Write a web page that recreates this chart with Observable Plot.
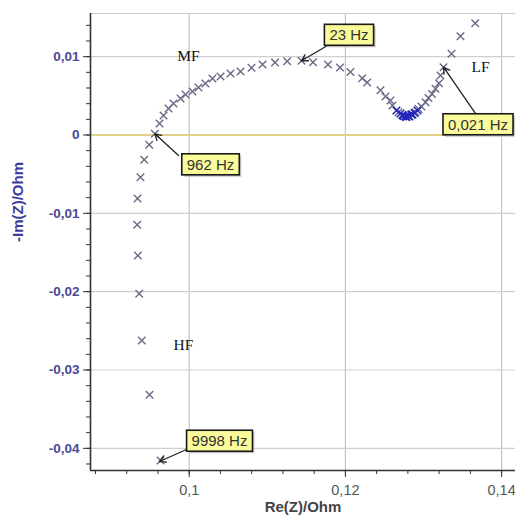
<!DOCTYPE html>
<html><head><meta charset="utf-8">
<script src="https://cdn.jsdelivr.net/npm/d3@7"></script>
<script src="https://cdn.jsdelivr.net/npm/@observablehq/plot@0.6"></script>
<style>body{margin:0;background:#fff;}</style>
</head><body><div id="chart"></div>
<script>
// Nyquist data: Re(Z) and -Im(Z) in Ohm
const reZ = [0.09633,0.09492,0.09393,0.09360,0.09342,0.09334,0.09338,0.09376,0.09424,0.09488,0.09560,
  0.0962,0.09671,0.09735,0.09799,0.09889,0.09953,0.10042,0.10119,0.10208,0.10298,0.10401,0.10529,0.10657,
  0.10798,0.10939,0.11099,0.11255,0.11438,0.11585,0.11777,0.11931,0.12065,0.12215,0.12279,0.12449,0.12513,
  0.12577,0.12603,0.12680,0.12731,0.12770,0.12808,0.12846,0.12898,0.12936,0.12974,0.13026,0.13064,0.13109,
  0.13154,0.13198,0.13218,0.13256,0.13359,0.13474,0.13662];
const negImZ = [-0.04155,-0.03316,-0.02623,-0.02027,-0.01538,-0.01146,-0.00811,-0.00539,-0.00317,-0.00125,0.00015,
  0.00147,0.00249,0.00338,0.00402,0.00466,0.00517,0.00555,0.00606,0.00657,0.00721,0.00747,0.00785,0.00811,
  0.00858,0.00900,0.00925,0.00941,0.00947,0.00929,0.00900,0.00862,0.00804,0.00725,0.00670,0.00572,0.00491,
  0.00440,0.00377,0.00291,0.00255,0.00236,0.00243,0.00262,0.00291,0.00332,0.00364,0.00419,0.00472,0.00523,
  0.00590,0.00661,0.00760,0.00865,0.01037,0.01261,0.01427];
// dense cluster of points near the minimum (drawn darker blue)
const clusterRe = [0.12654,0.12705,0.12731,0.12744,0.12770,0.12782,0.12808,0.12820,0.12846,0.12859,0.12885,0.12923];
const clusterIm = [0.00313,0.00274,0.00255,0.00243,0.00236,0.00230,0.00243,0.00236,0.00262,0.00262,0.00281,0.00313];

// frequency annotations
const annLabel = ["962 Hz","23 Hz","0,021 Hz","9998 Hz"];
const annPointRe = [0.09560,0.11438,0.13256,0.09620];
const annPointIm = [0.00015,0.00947,0.00865,-0.04168];
const annBoxRe = [0.10273,0.12046,0.13698,0.10388];
const annBoxIm = [-0.00383,0.01270,0.00128,-0.03912];
const annTailRe = [0.09863,0.11771,0.13667,0.09965];
const annTailIm = [-0.00262,0.01142,0.00274,-0.04015];

// region labels
const regionLabel = ["MF","LF","HF"];
const regionRe = [0.09991,0.13730,0.09927];
const regionIm = [0.01002,0.00874,-0.02687];

// axes
const xDomain = [0.08736, 0.14178];
const yDomain = [-0.04283, 0.01551];
const xTicks = [0.1, 0.12, 0.14];
const yTicks = [0.01, 0, -0.01, -0.02, -0.03, -0.04];
const xMinor = d3.range(0.088, 0.1415, 0.004);
const yMinor = d3.range(-0.042, 0.0155, 0.002);
const xTitle = "Re(Z)/Ohm";
const yTitle = "-Im(Z)/Ohm";

const fmt = d => String(+d.toFixed(4)).replace(".", ",");
const pts = reZ.map((x, i) => ({x, y: negImZ[i]}));
const cluster = clusterRe.map((x, i) => ({x, y: clusterIm[i]}));
const anns = annLabel.map((label, i) => ({label, px: annPointRe[i], py: annPointIm[i], bx: annBoxRe[i], by: annBoxIm[i], tx: annTailRe[i], ty: annTailIm[i]}));
const regions = regionLabel.map((label, i) => ({label, x: regionRe[i], y: regionIm[i]}));

const chart = Plot.plot({
  width: 515, height: 520,
  marginLeft: 90, marginRight: 0, marginTop: 13, marginBottom: 50,
  style: {fontFamily: "Liberation Sans, Arial, sans-serif", background: "#fff"},
  x: {domain: xDomain, axis: null},
  y: {domain: yDomain, axis: null},
  marks: [
    Plot.gridX(xTicks, {stroke: "#c4c4c4", strokeOpacity: 1, strokeWidth: 1.2}),
    Plot.gridY(yTicks.filter(d => d !== 0), {stroke: "#cfcfcf", strokeOpacity: 1, strokeWidth: 1.2}),
    Plot.ruleY([0], {stroke: "#e3d28e", strokeWidth: 2}),
    Plot.ruleY([yDomain[1]], {stroke: "#cccccc", strokeWidth: 1.2}),
    Plot.axisY({ticks: yMinor, tickSize: 4, tickFormat: () => "", stroke: "#333"}),
    Plot.axisX({ticks: xMinor, tickSize: 4, tickFormat: () => "", stroke: "#333"}),
    Plot.axisY({ticks: yTicks, tickSize: 7, tickPadding: 4, tickFormat: fmt, stroke: "#333", fill: "#4a4a96", fontSize: 13.5, fontWeight: 600}),
    Plot.axisX({ticks: xTicks, tickSize: 7, tickPadding: 7, tickFormat: fmt, stroke: "#333", fill: "#555", fontSize: 14.5}),
    Plot.ruleX([xDomain[0]], {stroke: "#333", strokeWidth: 1.6}),
    Plot.ruleY([yDomain[0]], {stroke: "#333", strokeWidth: 1.6}),
    Plot.text([yTitle], {frameAnchor: "left", rotate: -90, dx: -72, fill: "#3c3c9a", fontWeight: "bold", fontSize: 15, letterSpacing: 1.5}),
    Plot.text([xTitle], {frameAnchor: "bottom", dy: 41, fill: "#444", fontWeight: "bold", fontSize: 15, letterSpacing: 1.5}),
    Plot.dot(pts, {x: "x", y: "y", symbol: "times", r: 3.5, stroke: "#6a6a86", strokeWidth: 1.4}),
    Plot.dot(cluster, {x: "x", y: "y", symbol: "times", r: 3.5, stroke: "#2626b8", strokeWidth: 1.6}),
    Plot.text(regions, {x: "x", y: "y", text: "label", fontFamily: "Liberation Serif, Times New Roman, serif", fontSize: 15.5, fill: "#111"}),
    Plot.arrow(anns, {x1: "tx", y1: "ty", x2: "px", y2: "py", stroke: "#222", strokeWidth: 1.3, headLength: 8, insetEnd: 0, bend: 0}),
    Plot.text(anns, {x: "bx", y: "by", text: "label", fontSize: 15, fill: "#333", ariaDescription: "annotation"})
  ]
});
document.getElementById("chart").appendChild(chart);

// draw yellow label boxes behind annotation texts
const g = chart.querySelector('g[aria-description="annotation"]');
if (g) {
  g.querySelectorAll("text").forEach(t => {
    const b = t.getBBox();
    const tr = t.getAttribute("transform");
    const mk = (dx, dy, fill, stroke) => {
      const r = document.createElementNS("http://www.w3.org/2000/svg", "rect");
      r.setAttribute("x", b.x - 5 + dx); r.setAttribute("y", b.y - 2 + dy);
      r.setAttribute("width", b.width + 10); r.setAttribute("height", b.height + 4);
      r.setAttribute("fill", fill);
      if (stroke) { r.setAttribute("stroke", stroke); r.setAttribute("stroke-width", 1.6); }
      if (tr) r.setAttribute("transform", tr);
      g.insertBefore(r, t);
    };
    mk(2, 2, "#c8c8c8", null);
    mk(0, 0, "#fafa9a", "#1a1a1a");
  });
}
</script></body></html>
